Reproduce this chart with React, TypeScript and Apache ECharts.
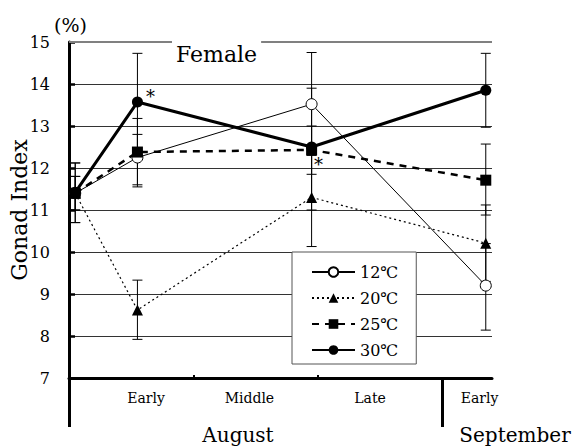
import React, { useEffect, useRef } from "react";
import * as echarts from "echarts";

// Sampling day counted from 1 August
const sampleDay = [0.5, 5.5, 19.5, 33.5];

// Gonad index (%) by rearing temperature
const gi12 = [11.4, 12.25, 13.52, 9.2];
const gi20 = [11.4, 8.62, 11.3, 10.21];
const gi25 = [11.4, 12.38, 12.43, 11.71];
const gi30 = [11.42, 13.57, 12.5, 13.85];

// Error bar ranges [low, high]
const err12 = [[10.7, 12.12], [11.6, 12.8], [12.3, 14.75], [8.14, 10.2]];
const err20 = [[11.0, 11.8], [7.92, 9.33], [10.13, 12.47], [9.3, 11.12]];
const err25 = [[11.0, 11.8], [11.55, 13.18], [11.85, 13.0], [10.88, 12.57]];
const err30 = [[10.7, 12.12], [12.4, 14.73], [11.0, 13.9], [12.97, 14.73]];

// Significance marks (*)
const sig25 = [false, false, true, false];
const sig30 = [false, true, false, false];

const seriesNames = ["12\u2103", "20\u2103", "25\u2103", "30\u2103"];

// Period labels under the time axis
const periodLabels = ["Early", "Middle", "Late", "Early"];
const periodLabelDays = [6.2, 14.5, 24.2, 33];
const decadeTicks = [10, 20];
const monthBoundaries = [0, 30];
const monthNames = ["August", "September"];

const yTicks = { min: 7, max: 15, step: 1 };
const yTitle = "Gonad Index";

const FONT = "DejaVu Serif";

export default function App() {
  const ref = useRef<HTMLDivElement>(null);

  useEffect(() => {
    if (!ref.current) return;
    const chart = echarts.init(ref.current, undefined, { renderer: "svg" });

    const pts = (vals: number[], sig?: boolean[], sigLabel?: any) =>
      vals.map((v, i) => {
        const item: any = { value: [sampleDay[i], v] };
        if (sig && sig[i]) {
          item.label = { show: true, formatter: "*", ...sigLabel };
        }
        return item;
      });

    const errData: number[][] = [];
    [err12, err20, err25, err30].forEach((arr) =>
      arr.forEach((r, i) => errData.push([sampleDay[i], r[0], r[1]]))
    );

    const sigStyle = {
      fontFamily: FONT,
      fontSize: 18,
      color: "#000",
    };

    chart.setOption({
      animation: false,
      backgroundColor: "#fff",
      title: {
        text: "Female",
        left: 172,
        top: 37,
        padding: [6, 4, 0, 4],
        backgroundColor: "#fff",
        textStyle: { fontFamily: FONT, fontSize: 22, fontWeight: "normal", color: "#000" },
      },
      grid: { left: 69, right: 80, top: 42, bottom: 69, outerBoundsMode: "none", containLabel: false },
      legend: {
        orient: "vertical",
        left: 292,
        top: 252,
        padding: [12, 18, 6, 19],
        itemGap: 10,
        itemWidth: 43,
        itemHeight: 12,
        backgroundColor: "#fff",
        borderColor: "#555",
        borderWidth: 1,
        borderRadius: 0,
        textStyle: { fontFamily: FONT, fontSize: 16, color: "#000" },
        data: seriesNames,
      },
      xAxis: [
        {
          type: "value",
          min: 0,
          max: 34,
          axisLine: { show: true, lineStyle: { color: "#000", width: 3 } },
          axisTick: {
            show: true,
            customValues: monthBoundaries,
            length: 49,
            lineStyle: { color: "#000", width: 3 },
          },
          axisLabel: { show: false },
          splitLine: { show: false },
        },
        {
          type: "value",
          min: 0,
          max: 34,
          position: "bottom",
          axisLine: { show: false },
          axisTick: {
            show: true,
            inside: true,
            customValues: decadeTicks,
            length: 3,
            lineStyle: { color: "#000", width: 2 },
          },
          axisLabel: {
            show: true,
            customValues: periodLabelDays,
            margin: 13,
            fontFamily: FONT,
            fontSize: 14,
            color: "#000",
            formatter: (v: number) => {
              const i = periodLabelDays.indexOf(v);
              return i >= 0 ? periodLabels[i] : "";
            },
          },
          splitLine: { show: false },
        },
      ],
      yAxis: {
        type: "value",
        min: yTicks.min,
        max: yTicks.max,
        interval: yTicks.step,
        axisLine: { show: true, lineStyle: { color: "#000", width: 3 } },
        axisTick: { show: true, inside: true, length: 6, lineStyle: { color: "#000", width: 2.5 } },
        axisLabel: { fontFamily: FONT, fontSize: 16, color: "#000", margin: 19 },
        splitLine: {
          show: true,
          showMaxLine: false,
          lineStyle: { color: "#333", width: 1 },
        },
      },
      graphic: [
        {
          type: "text",
          x: 19,
          y: 210,
          rotation: Math.PI / 2,
          style: {
            text: yTitle,
            fontFamily: FONT,
            fontSize: 22,
            fill: "#000",
            align: "center",
            verticalAlign: "middle",
          },
        },
        {
          type: "text",
          left: 54,
          top: 15,
          style: { text: "(%)", fontFamily: FONT, fontSize: 19, fill: "#000" },
        },
        {
          type: "text",
          x: 238,
          y: 435,
          style: {
            text: monthNames[0],
            fontFamily: FONT,
            fontSize: 20,
            fill: "#000",
            align: "center",
            verticalAlign: "middle",
          },
        },
        {
          type: "text",
          x: 515,
          y: 435,
          style: {
            text: monthNames[1],
            fontFamily: FONT,
            fontSize: 20,
            fill: "#000",
            align: "center",
            verticalAlign: "middle",
          },
        },
      ],
      series: [
        {
          type: "custom",
          name: "error",
          xAxisIndex: 0,
          z: 1,
          silent: true,
          encode: { x: 0, y: [1, 2] },
          data: errData,
          renderItem: (params: any, api: any) => {
            const x = api.value(0);
            const lo = api.coord([x, api.value(1)]);
            const hi = api.coord([x, api.value(2)]);
            const w = 5;
            const style = { stroke: "#000", lineWidth: 1 };
            return {
              type: "group",
              children: [
                { type: "line", shape: { x1: lo[0], y1: lo[1], x2: hi[0], y2: hi[1] }, style },
                { type: "line", shape: { x1: lo[0] - w, y1: lo[1], x2: lo[0] + w, y2: lo[1] }, style },
                { type: "line", shape: { x1: hi[0] - w, y1: hi[1], x2: hi[0] + w, y2: hi[1] }, style },
              ],
            };
          },
        },
        {
          type: "line",
          name: seriesNames[0],
          xAxisIndex: 0,
          z: 2,
          data: pts(gi12),
          symbol: "circle",
          symbolSize: 11,
          itemStyle: { color: "#fff", borderColor: "#000", borderWidth: 1 },
          lineStyle: { color: "#000", width: 1 },
        },
        {
          type: "line",
          name: seriesNames[1],
          xAxisIndex: 0,
          z: 3,
          data: pts(gi20),
          symbol: "triangle",
          symbolSize: 11,
          itemStyle: { color: "#000", borderColor: "#000", borderWidth: 0 },
          lineStyle: { color: "#000", width: 1.2, type: [2, 3] },
        },
        {
          type: "line",
          name: seriesNames[2],
          xAxisIndex: 0,
          z: 4,
          data: pts(gi25, sig25, {
            position: "bottom",
            distance: 2,
            offset: [7, -2],
            ...sigStyle,
          }),
          symbol: "rect",
          symbolSize: 11,
          itemStyle: { color: "#000", borderColor: "#000", borderWidth: 0 },
          lineStyle: { color: "#000", width: 2.5, type: [7, 6] },
        },
        {
          type: "line",
          name: seriesNames[3],
          xAxisIndex: 0,
          z: 5,
          data: pts(gi30, sig30, {
            position: "right",
            distance: 3,
            offset: [0, -6],
            ...sigStyle,
          }),
          symbol: "circle",
          symbolSize: 11,
          itemStyle: { color: "#000", borderColor: "#000", borderWidth: 0 },
          lineStyle: { color: "#000", width: 3 },
          markLine: {
            silent: true,
            symbol: "none",
            label: { show: false },
            lineStyle: { color: "#808080", width: 2, type: "solid" },
            data: [{ yAxis: yTicks.max }],
          },
        },
      ],
    });

    return () => chart.dispose();
  }, []);

  return (
    <div
      ref={ref}
      style={{ position: "fixed", left: 0, top: 0, width: 572, height: 447 }}
    />
  );
}
